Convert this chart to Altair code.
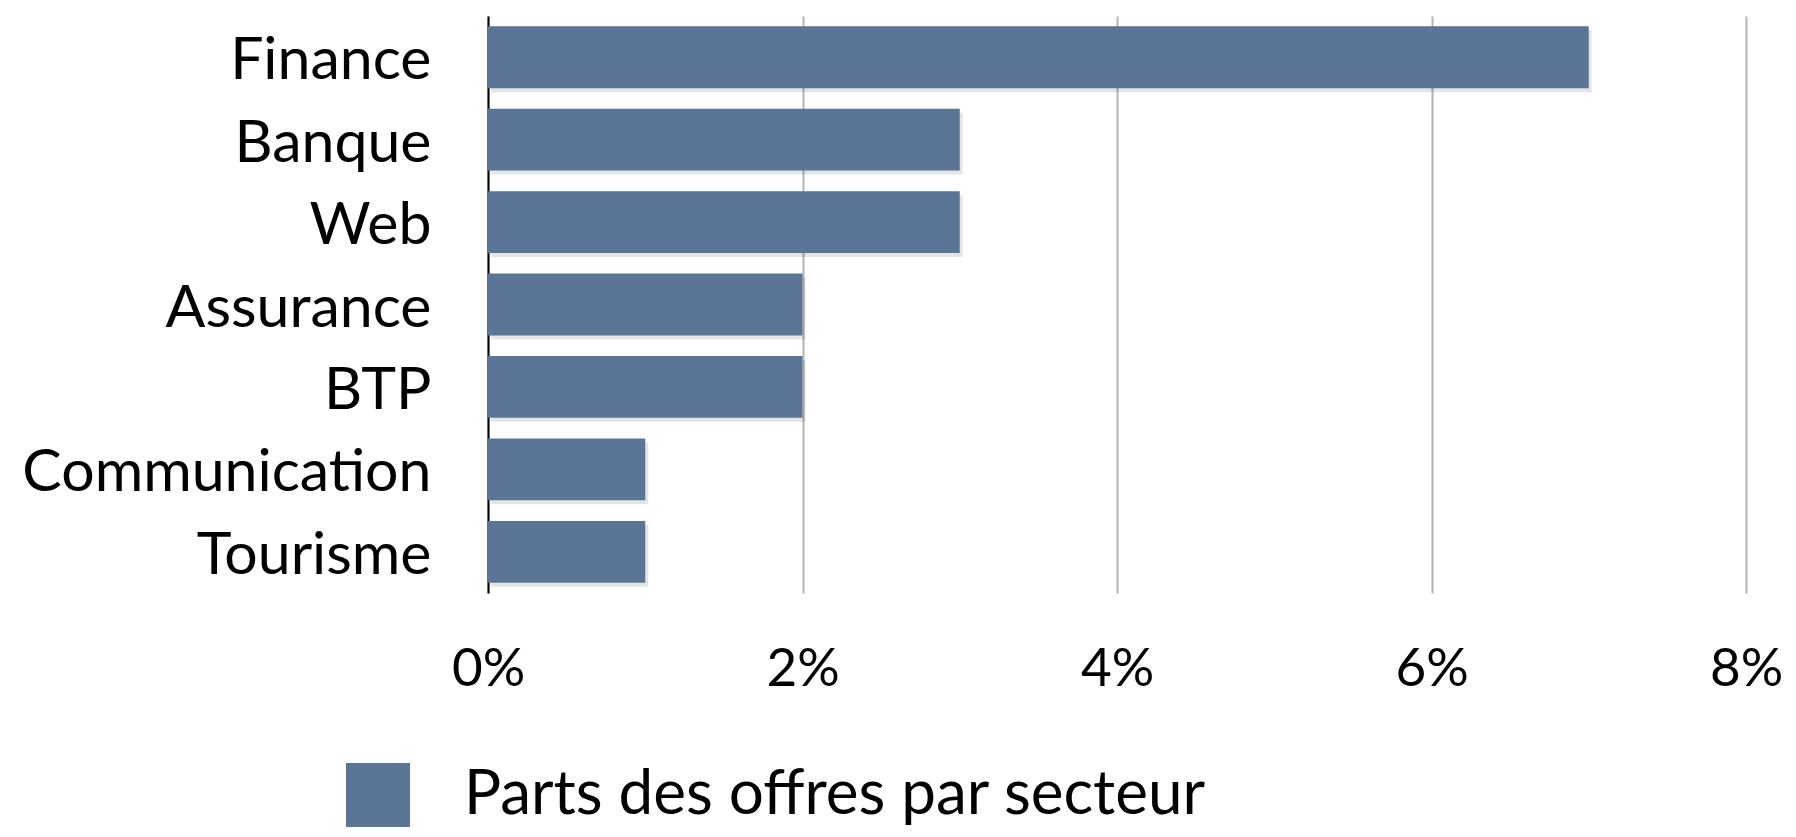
import altair as alt
import pandas as pd

secteurs = ["Finance", "Banque", "Web", "Assurance", "BTP", "Communication", "Tourisme"]
parts = [7, 3, 3, 2, 2, 1, 1]
serie = "Parts des offres par secteur"
x_ticks = [0, 2, 4, 6, 8]

df = pd.DataFrame({"secteur": secteurs, "part": parts, "serie": [serie] * len(secteurs)})

FONT = "Lato"

y_enc = alt.Y("secteur:N", sort=secteurs,
              scale=alt.Scale(paddingInner=0.25, paddingOuter=0.125),
              axis=alt.Axis(title=None, ticks=False, labelPadding=57, labelFontSize=59,
                            labelFont=FONT, labelColor="#000000", labelLimit=0, domain=True,
                            labelOffset=4,
                            domainColor="#000000", domainWidth=2, grid=False))
x_enc = alt.X("part:Q", scale=alt.Scale(domain=[0, 8], nice=False),
              axis=alt.Axis(title=None, values=x_ticks, labelExpr="datum.value + '%'",
                            ticks=False, domain=False, grid=True, gridColor="#b4b4b4",
                            gridWidth=2, labelFontSize=53, labelFont=FONT, labelFlush=False,
                            labelColor="#000000", labelPadding=50))

shadow = alt.Chart(df).mark_bar(color="#000000", opacity=0.10, xOffset=3, yOffset=4).encode(
    y=y_enc, x=x_enc,
)

bars = alt.Chart(df).mark_bar().encode(
    y=y_enc, x=x_enc,
    color=alt.Color("serie:N", scale=alt.Scale(range=["#5a7595"]),
                    legend=alt.Legend(title=None, orient="none", legendX=-142, legendY=747,
                                      symbolType="square", symbolSize=4096,
                                      symbolStrokeWidth=0, symbolOpacity=1,
                                      labelFontSize=62, labelFont=FONT, labelLimit=0,
                                      labelColor="#000000", labelOffset=54, padding=0)),
)

chart = alt.layer(shadow, bars).properties(
    width=1258, height=577,
    autosize=alt.AutoSizeParams(type="none"),
    padding={"left": 480, "top": 8, "right": 42, "bottom": 236},
).configure_view(stroke=None).configure_axisY(gridOpacity=0)

chart.save("out.html", embed_options={"renderer": "svg", "actions": False})
